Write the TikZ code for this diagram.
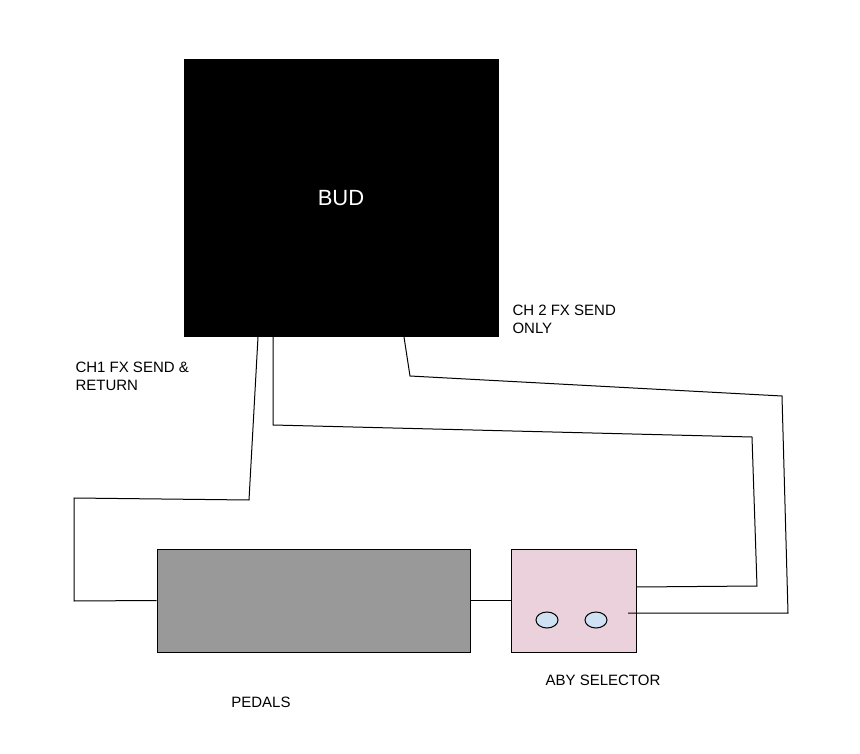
\documentclass[tikz,border=0pt]{standalone}
\usepackage{fontspec}
\setmainfont{Liberation Sans}
\usetikzlibrary{positioning, shapes.geometric}
\definecolor{pedalgray}{HTML}{999999}
\definecolor{abypink}{HTML}{EAD1DC}
\definecolor{knobblue}{HTML}{CFE2F3}
\begin{document}
\begin{tikzpicture}[x=1pt,y=-1pt,line width=1pt,
    label/.style={font=\fontsize{15}{18}\selectfont, align=left, anchor=north west, inner sep=0pt},
    knob/.style={draw, fill=knobblue, ellipse, minimum width=22pt, minimum height=16pt, inner sep=0pt}]
    \useasboundingbox (0,0) rectangle (860,754);

    % Boxes
    \node[draw, fill=black, minimum width=314pt, minimum height=276pt, text=white,
          font=\fontsize{22}{26}\selectfont] (bud) at (341,198) {BUD};
    \node[draw, fill=pedalgray, minimum width=313pt, minimum height=103pt] (pedals) at (313.5,600.5) {};
    \node[draw, fill=abypink, minimum width=125pt, minimum height=103pt] (aby) at (573.5,600.5) {};
    \node[knob] (knobA) at (547,620) {};
    \node[knob] (knobB) at (596,620) {};

    % Labels
    \node[label] (ch1) at (75,362) {CH1 FX SEND \&\\RETURN};
    \node[label] (ch2) at (512,305) {CH 2 FX SEND\\ONLY};
    \node[font=\fontsize{15}{18}\selectfont] (pedlab) at (261,702) {PEDALS};
    \node[font=\fontsize{15}{18}\selectfont] (abylab) at (603,680) {ABY SELECTOR};

    % Cables
    \draw (258,337) -- (249,500) -- (74,498) -- (74,601) -- (pedals.west);
    \draw (273,337) -- (273,425) -- (752,437) -- (757,586) -- (aby.east |- 0,587);
    \draw (404,337) -- (410,376) -- (782,396) -- (788,613) -- (628,613);
    \draw (pedals.east) -- (aby.west);
\end{tikzpicture}
\end{document}
